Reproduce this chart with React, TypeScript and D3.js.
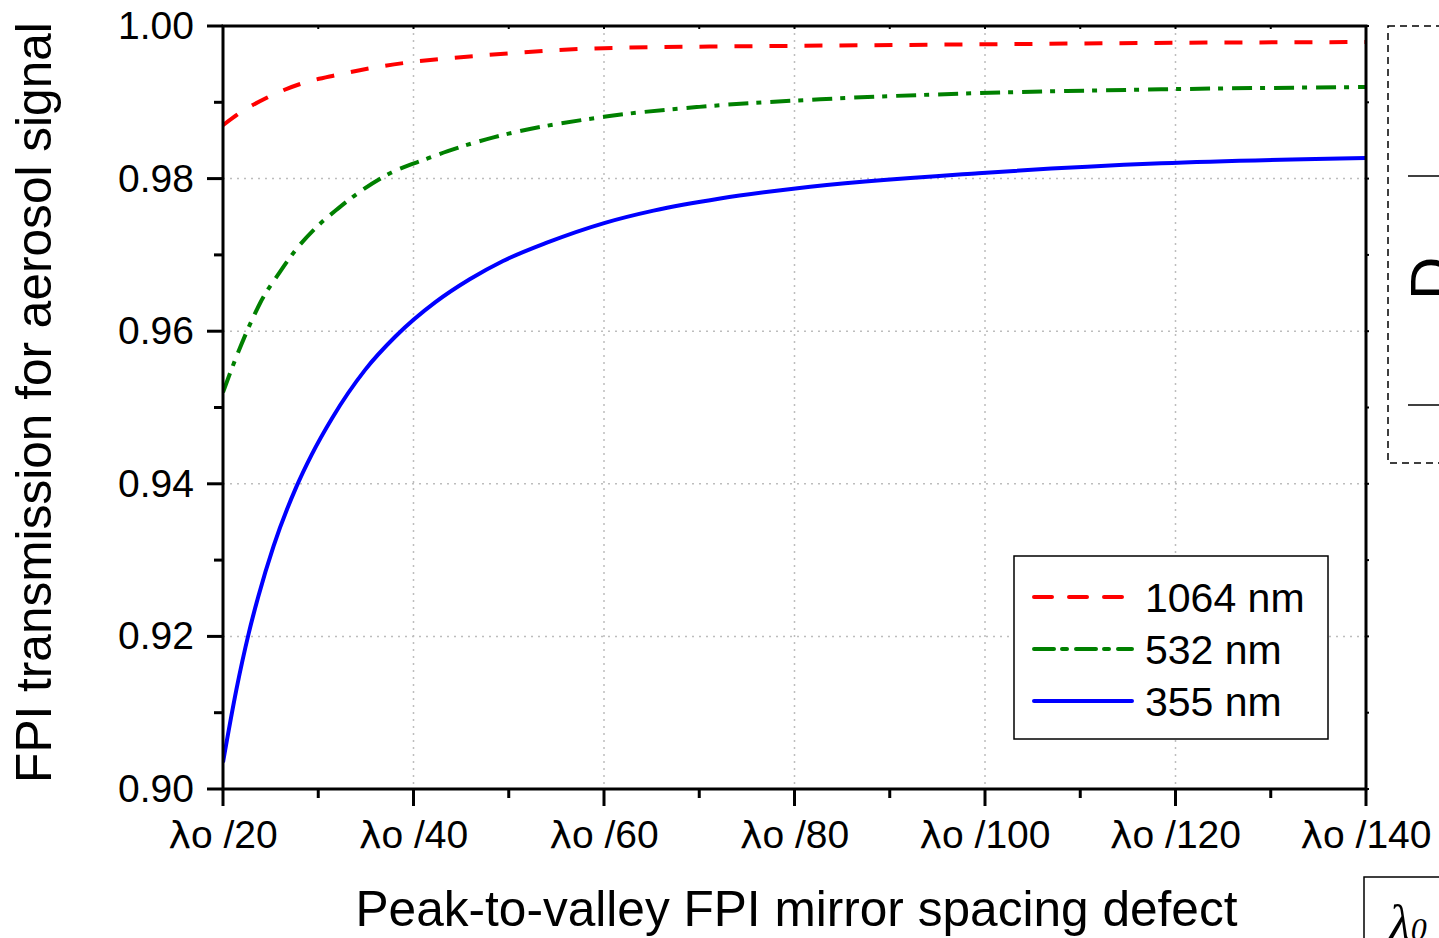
import React from "react";
import * as d3 from "d3";

// ---- data ----
const redX = [20, 22, 24.6, 28.1, 32.0, 35.6, 39.3, 43.1, 46.8, 60, 80, 100, 120, 140];
const redY = [0.9870, 0.9888, 0.9906, 0.9924, 0.9936, 0.9945, 0.9952, 0.9957, 0.9961, 0.9971, 0.9974, 0.9976, 0.9978, 0.9979];

const greenX = [20, 21.2, 23.2, 23.9, 26.0, 27.6, 29.7, 32.1, 34.4, 37.7, 41.4, 43.6, 46.1, 48.4, 60, 70, 82.7, 99.3, 118.5, 140];
const greenY = [0.9520, 0.9560, 0.9619, 0.9637, 0.9678, 0.9706, 0.9735, 0.9761, 0.9783, 0.9808, 0.9826, 0.9836, 0.9846, 0.9854, 0.9881, 0.9894, 0.9904, 0.9912, 0.9917, 0.9920];

const blueX = [20, 21.4, 22.7, 23.7, 25.3, 27.7, 29.3, 31.5, 34.9, 38.1, 42.3, 45.9, 49.4, 54.0, 60.1, 65.2, 72.2, 80.1, 99.3, 118.5, 140];
const blueY = [0.9035, 0.9130, 0.9204, 0.9252, 0.9318, 0.9396, 0.9438, 0.9487, 0.9549, 0.9593, 0.9638, 0.9668, 0.9692, 0.9716, 0.9742, 0.9758, 0.9774, 0.9787, 0.9807, 0.9820, 0.9827];

const seriesNames = ["1064 nm", "532 nm", "355 nm"];
const xMajor = [20, 40, 60, 80, 100, 120, 140];
const xMinor = [30, 50, 70, 90, 110, 130];
const yMajor = [0.90, 0.92, 0.94, 0.96, 0.98, 1.00];
const yMinor = [0.91, 0.93, 0.95, 0.97, 0.99];
const xTitle = "Peak-to-valley FPI mirror spacing defect";
const yTitle = "FPI transmission for aerosol signal";

const W = 1439, H = 938;
const L = 223, R = 1366, T = 26, B = 789;
const FONT = "'Liberation Sans', Arial, Helvetica, sans-serif";

export default function App() {
  const x = d3.scaleLinear().domain([20, 140]).range([L, R]);
  const y = d3.scaleLinear().domain([0.90, 1.00]).range([B, T]);
  const line = d3.line<[number, number]>().x(d => x(d[0])).y(d => y(d[1])).curve(d3.curveMonotoneX);
  const zip = (a: number[], b: number[]) => a.map((v, i) => [v, b[i]] as [number, number]);

  const series = [
    { name: seriesNames[0], d: line(zip(redX, redY)), color: "#ff0000", dash: "18,17", w: 4 },
    { name: seriesNames[1], d: line(zip(greenX, greenY)), color: "#008000", dash: "20,8,5,9", w: 4 },
    { name: seriesNames[2], d: line(zip(blueX, blueY)), color: "#0000ff", dash: "none", w: 4 },
  ];

  const legX = 1014, legY = 556, legW = 314, legH = 183;
  const rowY = [597, 649, 701];

  return (
    <svg width={W} height={H} style={{ position: "absolute", left: 0, top: 0, background: "#fff" }} fontFamily={FONT}>
      <rect x={0} y={0} width={W} height={H} fill="#fff" />
      <defs>
        <clipPath id="plot"><rect x={L} y={T} width={R - L} height={B - T} /></clipPath>
      </defs>
      {/* grid */}
      {xMajor.filter(v => v > 20 && v < 140).map(v => (
        <line key={"gx" + v} x1={x(v)} x2={x(v)} y1={T} y2={B} stroke="#bdbdbd" strokeWidth={1.5} strokeDasharray="2,5" />
      ))}
      {yMajor.filter(v => v > 0.901 && v < 0.999).map(v => (
        <line key={"gy" + v} x1={L} x2={R} y1={y(v)} y2={y(v)} stroke="#bdbdbd" strokeWidth={1.5} strokeDasharray="2,5" />
      ))}
      {/* curves */}
      <g clipPath="url(#plot)">
        {series.map(s => (
          <path key={s.name} d={s.d || ""} fill="none" stroke={s.color} strokeWidth={s.w} strokeDasharray={s.dash} />
        ))}
      </g>
      {/* frame */}
      <rect x={L} y={T} width={R - L} height={B - T} fill="none" stroke="#000" strokeWidth={3} />
      {/* bottom ticks */}
      {xMajor.map(v => (
        <line key={"xt" + v} x1={x(v)} x2={x(v)} y1={B} y2={B + 17} stroke="#000" strokeWidth={3} />
      ))}
      {xMinor.map(v => (
        <line key={"xm" + v} x1={x(v)} x2={x(v)} y1={B} y2={B + 9} stroke="#000" strokeWidth={3} />
      ))}
      {/* top ticks */}
      {xMajor.concat(xMinor).map(v => (
        <line key={"xtt" + v} x1={x(v)} x2={x(v)} y1={T} y2={T + 3} stroke="#000" strokeWidth={2} />
      ))}
      {/* left ticks */}
      {yMajor.map(v => (
        <line key={"yt" + v} x1={L - 16} x2={L} y1={y(v)} y2={y(v)} stroke="#000" strokeWidth={3} />
      ))}
      {yMinor.map(v => (
        <line key={"ym" + v} x1={L - 9} x2={L} y1={y(v)} y2={y(v)} stroke="#000" strokeWidth={3} />
      ))}
      {/* right ticks */}
      {yMajor.concat(yMinor).map(v => (
        <line key={"yr" + v} x1={R} x2={R + 3} y1={y(v)} y2={y(v)} stroke="#000" strokeWidth={2} />
      ))}
      {/* tick labels */}
      {xMajor.map(v => (
        <text key={"xl" + v} x={x(v)} y={848} fontSize={39} textAnchor="middle" fill="#000">
          <tspan fontFamily="'DejaVu Sans', sans-serif" fontSize={38}>λ</tspan>{"o /" + v}
        </text>
      ))}
      {yMajor.map(v => (
        <text key={"yl" + v} x={194} y={y(v) + 13} fontSize={39} textAnchor="end" fill="#000">{d3.format(".2f")(v)}</text>
      ))}
      {/* axis titles */}
      <text x={(L + R) / 2 + 2} y={926} fontSize={49.6} textAnchor="middle" fill="#000">{xTitle}</text>
      <text transform={`translate(51,${(T + B) / 2 - 5}) rotate(-90)`} fontSize={49.6} textAnchor="middle" fill="#000">{yTitle}</text>
      {/* legend */}
      <rect x={legX} y={legY} width={legW} height={legH} fill="#fff" stroke="#000" strokeWidth={1.5} />
      {series.map((s, i) => (
        <g key={"lg" + i}>
          <line x1={1034} x2={i === 0 ? 1124 : 1132} y1={rowY[i]} y2={rowY[i]} stroke={s.color} strokeWidth={4}
            strokeDasharray={s.dash} strokeLinecap="round" />
          <text x={1145} y={rowY[i] + 15} fontSize={41} fill="#000">{s.name}</text>
        </g>
      ))}
      {/* partial neighbouring panel elements */}
      <rect x={1388} y={26} width={80} height={437} fill="none" stroke="#000" strokeWidth={1.5} strokeDasharray="7,5" />
      <line x1={1408} x2={1439} y1={176} y2={176} stroke="#000" strokeWidth={1.5} />
      <line x1={1408} x2={1439} y1={405} y2={405} stroke="#000" strokeWidth={1.5} />
      <text transform="translate(1452,300) rotate(-90)" fontSize={60} fill="#000">D</text>
      <rect x={1364} y={877} width={100} height={80} fill="none" stroke="#000" strokeWidth={1.5} />
      <text x={1389} y={940} fontSize={50} fontStyle="italic" fontFamily="'Liberation Serif', 'Times New Roman', serif" fill="#000">λ<tspan fontSize={32}>0</tspan></text>
    </svg>
  );
}
